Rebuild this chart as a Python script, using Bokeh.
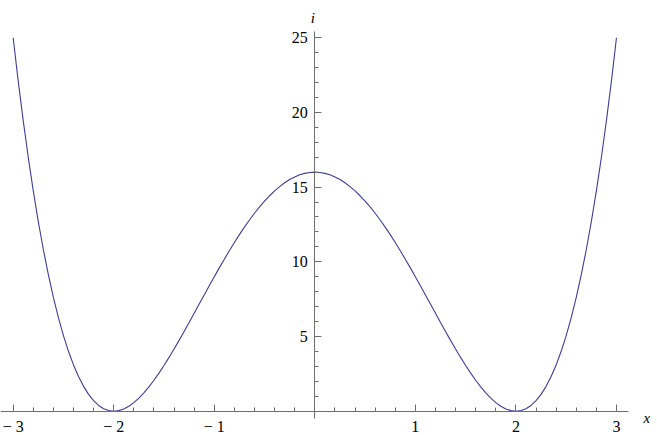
from bokeh.plotting import figure
from bokeh.models import Range1d, LinearAxis, FixedTicker, Label
from bokeh.embed import file_html
from bokeh.resources import INLINE

xs = [-3.0, -2.95, -2.9, -2.85, -2.8, -2.75, -2.7, -2.65, -2.6, -2.55, -2.5, -2.45, -2.4, -2.35, -2.3,
      -2.25, -2.2, -2.15, -2.1, -2.05, -2.0, -1.95, -1.9, -1.85, -1.8, -1.75, -1.7, -1.65, -1.6, -1.55,
      -1.5, -1.45, -1.4, -1.35, -1.3, -1.25, -1.2, -1.15, -1.1, -1.05, -1.0, -0.95, -0.9, -0.85, -0.8,
      -0.75, -0.7, -0.65, -0.6, -0.55, -0.5, -0.45, -0.4, -0.35, -0.3, -0.25, -0.2, -0.15, -0.1, -0.05,
      0.0, 0.05, 0.1, 0.15, 0.2, 0.25, 0.3, 0.35, 0.4, 0.45, 0.5, 0.55, 0.6, 0.65, 0.7, 0.75, 0.8, 0.85,
      0.9, 0.95, 1.0, 1.05, 1.1, 1.15, 1.2, 1.25, 1.3, 1.35, 1.4, 1.45, 1.5, 1.55, 1.6, 1.65, 1.7, 1.75,
      1.8, 1.85, 1.9, 1.95, 2.0, 2.05, 2.1, 2.15, 2.2, 2.25, 2.3, 2.35, 2.4, 2.45, 2.5, 2.55, 2.6, 2.65,
      2.7, 2.75, 2.8, 2.85, 2.9, 2.95, 3.0]
ys = [25.0, 22.1135, 19.4481, 16.995, 14.7456, 12.6914, 10.8241, 9.1355, 7.6176, 6.2625, 5.0625, 4.01,
      3.0976, 2.318, 1.6641, 1.1289, 0.7056, 0.3875, 0.1681, 0.041, 0.0, 0.039, 0.1521, 0.3335, 0.5776,
      0.8789, 1.2321, 1.632, 2.0736, 2.552, 3.0625, 3.6005, 4.1616, 4.7415, 5.3361, 5.9414, 6.5536, 7.169,
      7.7841, 8.3955, 9.0, 9.5945, 10.1761, 10.742, 11.2896, 11.8164, 12.3201, 12.7985, 13.2496, 13.6715,
      14.0625, 14.421, 14.7456, 15.035, 15.2881, 15.5039, 15.6816, 15.8205, 15.9201, 15.98,
      16.0,
      15.98, 15.9201, 15.8205, 15.6816, 15.5039, 15.2881, 15.035, 14.7456, 14.421, 14.0625, 13.6715,
      13.2496, 12.7985, 12.3201, 11.8164, 11.2896, 10.742, 10.1761, 9.5945, 9.0, 8.3955, 7.7841, 7.169,
      6.5536, 5.9414, 5.3361, 4.7415, 4.1616, 3.6005, 3.0625, 2.552, 2.0736, 1.632, 1.2321, 0.8789,
      0.5776, 0.3335, 0.1521, 0.039, 0.0, 0.041, 0.1681, 0.3875, 0.7056, 1.1289, 1.6641, 2.318, 3.0976,
      4.01, 5.0625, 6.2625, 7.6176, 9.1355, 10.8241, 12.6914, 14.7456, 16.995, 19.4481, 22.1135, 25.0]

x_major = [-3, -2, -1, 1, 2, 3]
x_minor = [-3.0, -2.8, -2.6, -2.4, -2.2, -2.0, -1.8, -1.6, -1.4, -1.2, -1.0, -0.8, -0.6, -0.4, -0.2, 0.0,
           0.2, 0.4, 0.6, 0.8, 1.0, 1.2, 1.4, 1.6, 1.8, 2.0, 2.2, 2.4, 2.6, 2.8, 3.0]
x_labels = {-3: "\u2212 3", -2: "\u2212 2", -1: "\u2212 1", 1: "1", 2: "2", 3: "3"}
y_major = [5, 10, 15, 20, 25]
y_minor = [1, 2, 3, 4, 6, 7, 8, 9, 11, 12, 13, 14, 16, 17, 18, 19, 21, 22, 23, 24]
x_name = "x"
y_name = "i"

FONT = "'Liberation Serif', serif"
AX = "#6e6e6e"

p = figure(width=657, height=435, output_backend="svg", toolbar_location=None,
           x_axis_location=None, y_axis_location=None,
           x_range=Range1d(-3.126, 3.408), y_range=Range1d(-1.626, 27.49),
           min_border_left=0, min_border_right=0, min_border_top=0, min_border_bottom=0)
p.outline_line_color = None
p.grid.visible = False
p.background_fill_color = "white"
p.border_fill_color = "white"

xa = LinearAxis(fixed_location=0, bounds=(-3.126, 3.120),
                ticker=FixedTicker(ticks=x_major, minor_ticks=x_minor))
xa.major_label_overrides = x_labels
ya = LinearAxis(fixed_location=0, bounds=(-0.489, 25.415),
                ticker=FixedTicker(ticks=y_major, minor_ticks=y_minor))
for ax in (xa, ya):
    ax.axis_line_color = AX
    ax.axis_line_width = 1
    ax.major_tick_line_color = AX
    ax.minor_tick_line_color = AX
    ax.major_tick_in = 7
    ax.major_tick_out = 0
    ax.minor_tick_in = 4
    ax.minor_tick_out = 0
    ax.major_label_text_font = FONT
    ax.major_label_text_font_size = "16px"
    ax.major_label_text_color = "#000000"
xa.major_label_standoff = 7
ya.major_label_standoff = 7
p.add_layout(xa, "below")
p.add_layout(ya, "left")

p.line(xs, ys, line_color="#3d3d99", line_width=1.1)

p.add_layout(Label(x=3.269, y=-0.44, text=x_name, text_font=FONT, text_font_style="italic",
                   text_font_size="15px", text_align="left", text_baseline="alphabetic",
                   text_color="#000000"))
p.add_layout(Label(x=-0.02, y=26.35, text=y_name, text_font=FONT, text_font_style="italic",
                   text_font_size="15px", text_align="center", text_baseline="alphabetic",
                   text_color="#000000"))

open("out.html", "w").write(file_html(p, INLINE))
